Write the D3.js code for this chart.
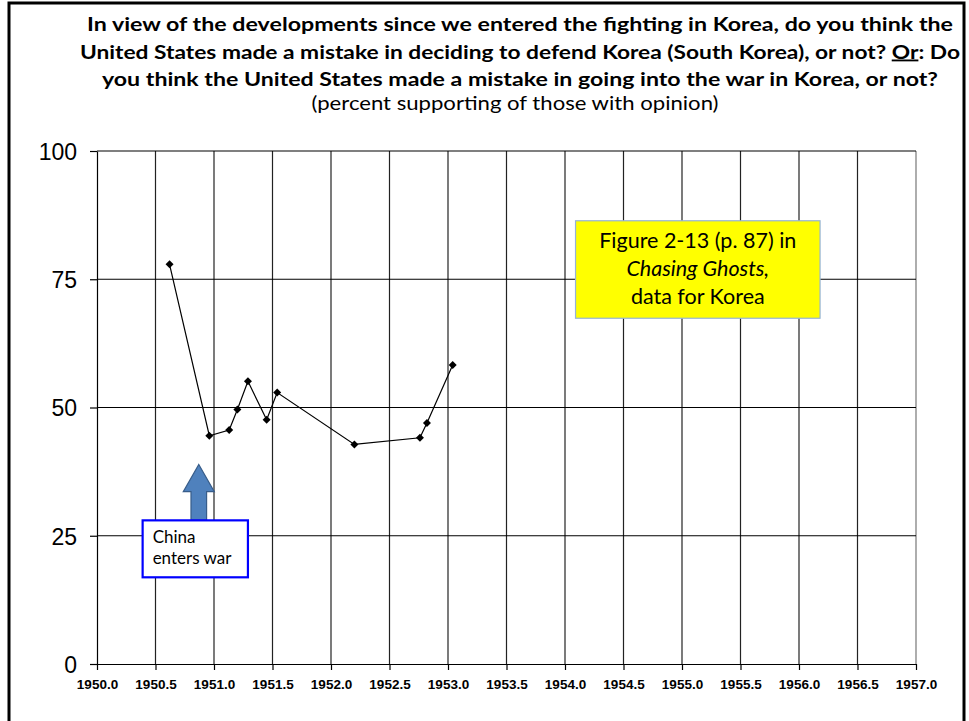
<!DOCTYPE html>
<html>
<head>
<meta charset="utf-8">
<script src="https://cdn.jsdelivr.net/npm/d3@7"></script>
<style>
  body { margin: 0; background: #fff; }
  svg { display: block; }
</style>
</head>
<body>
<svg width="969" height="721"></svg>
<script>
// poll dates (decimal year) and percent supporting
var pollYears = [1950.62, 1950.96, 1951.13, 1951.20, 1951.29, 1951.45, 1951.54, 1952.20, 1952.76, 1952.82, 1953.04];
var pollValues = [77.9, 44.5, 45.6, 49.6, 55.1, 47.6, 52.9, 42.8, 44.1, 47.0, 58.3];

var xTickValues = d3.range(1950, 1957.01, 0.5);
var yTickValues = [0, 25, 50, 75, 100];

var titleLines = [
  "In view of the developments since we entered the fighting in Korea, do you think the",
  "United States made a mistake in deciding to defend Korea (South Korea), or not? |Or|: Do",
  "you think the United States made a mistake in going into the war in Korea, or not?"
];
var subTitle = "(percent supporting of those with opinion)";
var noteLines = ["Figure 2-13 (p. 87) in", "Chasing Ghosts,", "data for Korea"];
var chinaLines = ["China", "enters war"];
var chinaYear = 1950.87;

var svg = d3.select("svg"),
    margin = {top: 151, right: 53, bottom: 57, left: 97},
    width = +svg.attr("width") - margin.left - margin.right,
    height = +svg.attr("height") - margin.top - margin.bottom;

var x = d3.scaleLinear().domain([1950, 1957]).range([0, width]),
    y = d3.scaleLinear().domain([0, 100]).range([height, 0]);

// slide frame
svg.append("rect")
    .attr("x", 9).attr("y", 3)
    .attr("width", 955).attr("height", 730)
    .attr("fill", "none")
    .attr("stroke", "#000")
    .attr("stroke-width", 3);

// title
var titleWidths = [866, 880, 836];
titleLines.forEach(function(line, i) {
  var t = svg.append("text")
      .attr("x", 520)
      .attr("y", 31 + i * 27.5)
      .attr("text-anchor", "middle")
      .attr("textLength", titleWidths[i])
      .attr("lengthAdjust", "spacingAndGlyphs")
      .style("font-family", "Lato, 'Open Sans', sans-serif")
      .style("font-weight", "bold")
      .style("font-size", "18.5px");
  line.split("|").forEach(function(part, j) {
    var ts = t.append("tspan").text(part);
    if (j === 1) ts.style("text-decoration", "underline");
  });
});

svg.append("text")
    .attr("x", 515)
    .attr("y", 110)
    .attr("text-anchor", "middle")
    .attr("textLength", 407)
    .attr("lengthAdjust", "spacingAndGlyphs")
    .style("font-family", "Lato, 'Open Sans', sans-serif")
    .style("font-size", "18.5px")
    .text(subTitle);

var g = svg.append("g")
    .attr("transform", "translate(" + margin.left + "," + margin.top + ")");

// grid
g.append("g").selectAll("line")
    .data(xTickValues.slice(1))
    .enter().append("line")
    .attr("x1", function(d) { return x(d); })
    .attr("x2", function(d) { return x(d); })
    .attr("y1", y(0)).attr("y2", y(100))
    .attr("stroke", function(d) { return d === 1957 ? "#777" : "#222"; })
    .attr("stroke-width", 1.2);

g.append("g").selectAll("line")
    .data(yTickValues.slice(1))
    .enter().append("line")
    .attr("x1", 0).attr("x2", width)
    .attr("y1", function(d) { return y(d); })
    .attr("y2", function(d) { return y(d); })
    .attr("stroke", "#000")
    .attr("stroke-width", 1.2);

// axes
var xAxis = d3.axisBottom(x)
    .tickValues(xTickValues)
    .tickFormat(d3.format(".1f"))
    .tickSize(6)
    .tickSizeOuter(0)
    .tickPadding(9);

var yAxis = d3.axisLeft(y)
    .tickValues(yTickValues)
    .tickSize(7)
    .tickSizeOuter(0)
    .tickPadding(13);

var xAxisG = g.append("g")
    .attr("class", "axis axis--x")
    .attr("transform", "translate(0," + height + ")")
    .call(xAxis);
xAxisG.selectAll("text")
    .style("font-family", "'Liberation Sans', Arial, sans-serif")
    .style("font-weight", "bold")
    .style("font-size", "13.5px")
    .attr("fill", "#000");

var yAxisG = g.append("g")
    .attr("class", "axis axis--y")
    .call(yAxis);
yAxisG.selectAll("text")
    .attr("dy", "0.36em")
    .style("font-family", "'Liberation Sans', Arial, sans-serif")
    .style("font-size", "23px")
    .attr("fill", "#000");

g.selectAll(".axis path, .axis line")
    .attr("stroke", "#000")
    .attr("stroke-width", 1.2);

// data line
var points = pollYears.map(function(d, i) { return [d, pollValues[i]]; });

var line = d3.line()
    .x(function(d) { return x(d[0]); })
    .y(function(d) { return y(d[1]); });

g.append("path")
    .datum(points)
    .attr("d", line)
    .attr("fill", "none")
    .attr("stroke", "#000")
    .attr("stroke-width", 1.2);

g.append("g").selectAll("path")
    .data(points)
    .enter().append("path")
    .attr("d", "M0,-4L4,0L0,4L-4,0Z")
    .attr("transform", function(d) { return "translate(" + x(d[0]) + "," + y(d[1]) + ")"; })
    .attr("fill", "#000");

// yellow note box
var noteX0 = x(1954.09), noteX1 = x(1956.18),
    noteY0 = y(86.4), noteY1 = y(67.4);
g.append("rect")
    .attr("x", noteX0).attr("y", noteY0)
    .attr("width", noteX1 - noteX0).attr("height", noteY1 - noteY0)
    .attr("fill", "#ffff00")
    .attr("stroke", "#95b3d7")
    .attr("stroke-width", 1.2);

noteLines.forEach(function(t, i) {
  g.append("text")
      .attr("x", (noteX0 + noteX1) / 2)
      .attr("y", noteY0 + 27 + i * 28)
      .attr("text-anchor", "middle")
      .style("font-family", "Lato, 'Open Sans', sans-serif")
      .style("font-size", "21.5px")
      .style("font-style", i === 1 ? "italic" : "normal")
      .text(t);
});

// arrow marking China's entry
var ax = x(chinaYear), tipY = y(38.9), headY = y(33.6), baseY = y(28.1);
g.append("path")
    .attr("d", "M" + ax + "," + tipY +
        "L" + (ax + 15.5) + "," + headY +
        "L" + (ax + 7.8) + "," + headY +
        "L" + (ax + 7.8) + "," + baseY +
        "L" + (ax - 7.8) + "," + baseY +
        "L" + (ax - 7.8) + "," + headY +
        "L" + (ax - 15.5) + "," + headY + "Z")
    .attr("fill", "#4f81bd")
    .attr("stroke", "#385d8a")
    .attr("stroke-width", 1.2);

var cX0 = x(1950.39), cX1 = x(1951.29), cY0 = y(28.0), cY1 = y(16.9);
g.append("rect")
    .attr("x", cX0).attr("y", cY0)
    .attr("width", cX1 - cX0).attr("height", cY1 - cY0)
    .attr("fill", "#fff")
    .attr("stroke", "#0000ff")
    .attr("stroke-width", 2.2);

chinaLines.forEach(function(t, i) {
  g.append("text")
      .attr("x", cX0 + 10)
      .attr("y", cY0 + 23 + i * 21)
      .style("font-family", "Lato, 'Open Sans', sans-serif")
      .style("font-size", "17px")
      .text(t);
});
</script>
</body>
</html>
